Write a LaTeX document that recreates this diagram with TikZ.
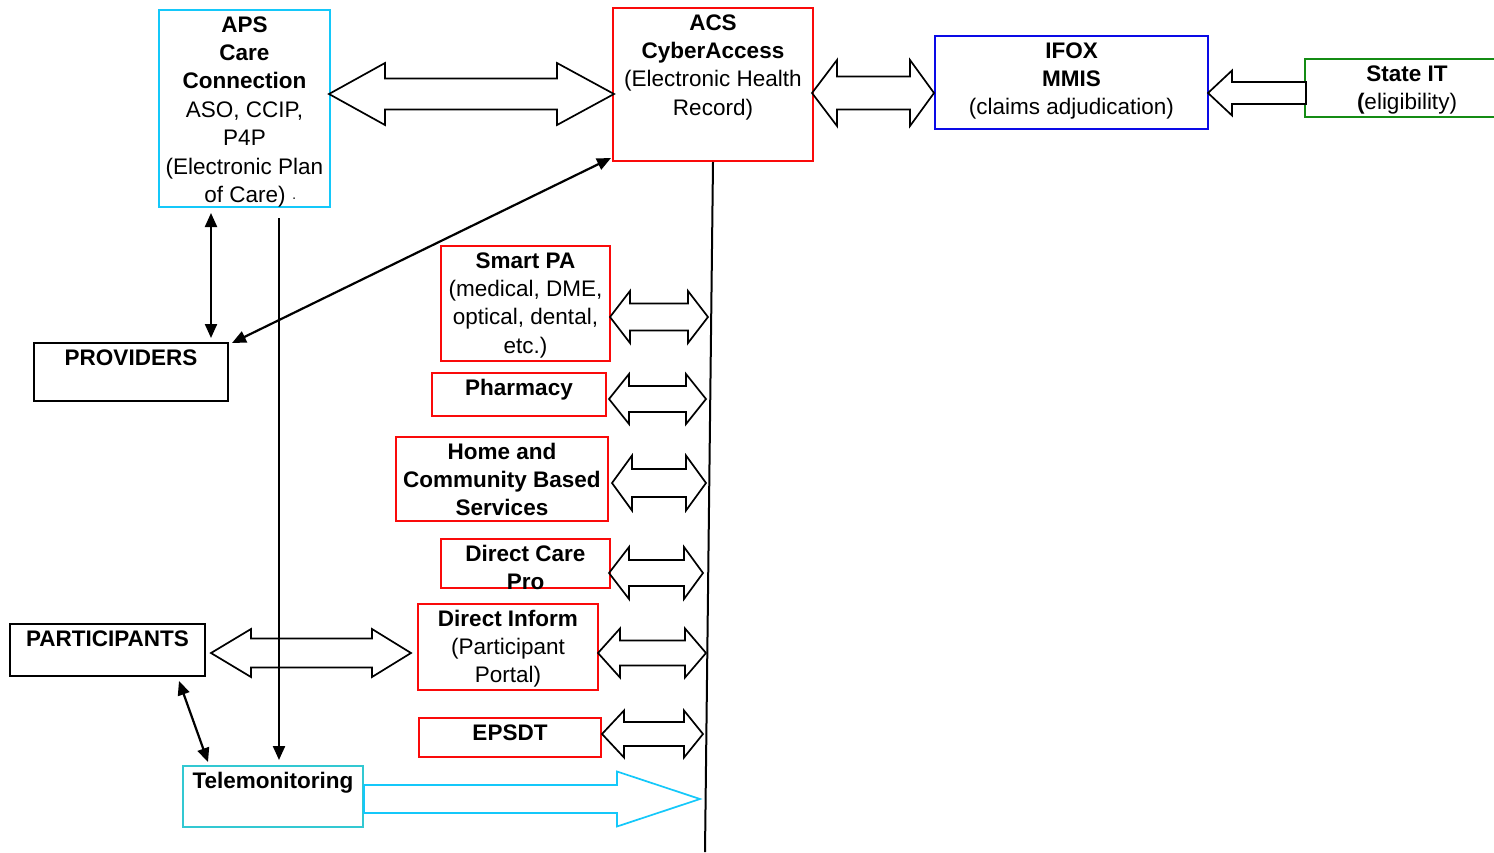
\documentclass[tikz,border=0pt]{standalone}
\usepackage{fontspec}
\setmainfont{Liberation Sans}
\usetikzlibrary{arrows.meta}
\definecolor{cRed}{RGB}{250,10,10}
\definecolor{cCyan}{RGB}{20,200,250}
\definecolor{cTeal}{RGB}{50,200,210}
\definecolor{cBlue}{RGB}{10,10,230}
\definecolor{cGreen}{RGB}{20,140,20}
\newcommand\fsz{\fontsize{22.5}{28.4}\selectfont}
% box: name, colour, x1, y1, x2, y2
\newcommand\bx[6]{\node[box=#2,minimum width={#5-#3},minimum height={#6-#4}] (#1) at (#3,#4) {};}
% double block arrow: x1,x2,yc,headhalf,shafthalf,headlen1,headlen2
\newcommand\dblarrow[7]{\draw[barrow] (#1,#3) -- ({#1+#6},{#3-#4}) -- ({#1+#6},{#3-#5}) -- ({#2-#7},{#3-#5}) -- ({#2-#7},{#3-#4}) -- (#2,#3) -- ({#2-#7},{#3+#4}) -- ({#2-#7},{#3+#5}) -- ({#1+#6},{#3+#5}) -- ({#1+#6},{#3+#4}) -- cycle;}
\begin{document}
\begin{tikzpicture}[x=1pt,y=-1pt,
  box/.style={draw=#1,line width=2pt,fill=white,inner sep=0pt,anchor=north west},
  txt/.style={anchor=north,inner xsep=0pt,inner ysep=0pt,align=center,font=\fsz,yshift=-3pt},
  barrow/.style={draw=black,line width=1.7pt,line join=miter},
  arr/.style={line width=2.2pt,{Triangle[length=14pt,width=12pt]}-{Triangle[length=14pt,width=12pt]}},
  arrone/.style={line width=2.2pt,-{Triangle[length=14pt,width=12pt]}}]
\useasboundingbox (0,0) rectangle (1494,852);
\fill[white] (0,0) rectangle (1494,852);

% boxes
\bx{aps}{cCyan}{158}{9}{329}{206}
\bx{acs}{cRed}{612}{7}{812}{160}
\bx{ifox}{cBlue}{934}{35}{1207}{128}
\bx{state}{cGreen}{1304}{58}{1508}{116}
\bx{prov}{black}{33}{342}{227}{400}
\bx{part}{black}{9}{623}{204}{675}
\bx{tele}{cTeal}{182}{765}{362}{826}
\bx{spa}{cRed}{440}{245}{609}{360}
\bx{pha}{cRed}{431}{372}{605}{415}
\bx{hcbs}{cRed}{395}{436}{607}{520}
\bx{dcp}{cRed}{440}{538}{609}{587}
\bx{dinf}{cRed}{417}{603}{597}{689}
\bx{eps}{cRed}{418}{717}{600}{756}

% texts
\node[txt] (apsT) at (aps.north) {\strut\textbf{APS}\\\textbf{Care}\\\textbf{Connection}\\ASO, CCIP,\\P4P\\(Electronic Plan\\\hspace*{12pt}of Care) {\fontsize{14}{14}\selectfont·}};
\node[txt] (acsT) at (acs.north) {\strut\textbf{ACS}\\\textbf{CyberAccess}\\(Electronic Health\\Record)};
\node[txt] (ifoxT) at (ifox.north) {\strut\textbf{IFOX}\\\textbf{MMIS}\\(claims adjudication)};
\node[txt] (stateT) at (state.north) {\strut\textbf{State IT}\\\textbf{(}eligibility)};
\node[txt] (provT) at (prov.north) {\strut\textbf{PROVIDERS}};
\node[txt] (partT) at (part.north) {\strut\textbf{PARTICIPANTS}};
\node[txt] (teleT) at (tele.north) {\strut\textbf{Telemonitoring}};
\node[txt] (spaT) at (spa.north) {\strut\textbf{Smart PA}\\(medical, DME,\\optical, dental,\\etc.)};
\node[txt] (phaT) at (pha.north) {\strut\textbf{Pharmacy}};
\node[txt] (hcbsT) at (hcbs.north) {\strut\textbf{Home and}\\\textbf{Community Based}\\\textbf{Services}};
\begin{scope}
\clip (dcp.north west) rectangle (dcp.south east);
\node[txt] (dcpT) at (dcp.north) {\strut\textbf{Direct Care}\\\textbf{Pro}};
\end{scope}
\node[txt] (dinfT) at (dinf.north) {\strut\textbf{Direct Inform}\\(Participant\\Portal)};
\node[txt] (epsT) at (eps.north) {\strut\textbf{EPSDT}};

% vertical bus line
\coordinate (busend) at (705,852);
\draw[line width=2pt] (acs.south) -- (busend);

% thin arrows
\draw[arr] ([xshift=-33.5pt,yshift=-5pt]aps.south) -- ([xshift=80pt,yshift=4pt]prov.north);
\draw[arr] ([xshift=-1pt,yshift=4pt]acs.south west) -- ([xshift=3pt,yshift=-1pt]prov.north east);
\draw[arrone] ([xshift=34.5pt,yshift=-10pt]aps.south) -- ([xshift=6pt,yshift=5pt]tele.north);
\draw[arr] ([xshift=-27pt,yshift=-4pt]part.south east) -- ([xshift=26pt,yshift=3pt]tele.north west);

% block arrows
\dblarrow{329}{614}{94}{31}{15.5}{56}{57}
\dblarrow{812}{934}{93}{33}{16.5}{25}{24}
\dblarrow{610}{708}{317}{26}{13.5}{20}{20}
\dblarrow{609}{706}{399}{25}{13}{20}{20}
\dblarrow{612}{706}{483}{27.5}{14}{20}{20}
\dblarrow{609}{703}{573}{26}{13}{20}{19}
\dblarrow{598}{706}{653}{24.5}{12.5}{22}{21}
\dblarrow{602}{703}{734}{23.5}{12}{22}{19}
\dblarrow{211}{411}{653}{24}{14.5}{40}{39}
% State IT -> IFOX (single, pointing left)
\draw[barrow,fill=white] (1208,93) -- (1232,70.5) -- (1232,82) -- (1306,82) -- (1306,104) -- (1232,104) -- (1232,115.5) -- cycle;
% Telemonitoring -> bus (cyan)
\draw[barrow,draw=cCyan] (364,785) -- (617,785) -- (617,771.5) -- (700,799) -- (617,826.5) -- (617,813) -- (364,813) -- cycle;
\end{tikzpicture}
\end{document}
